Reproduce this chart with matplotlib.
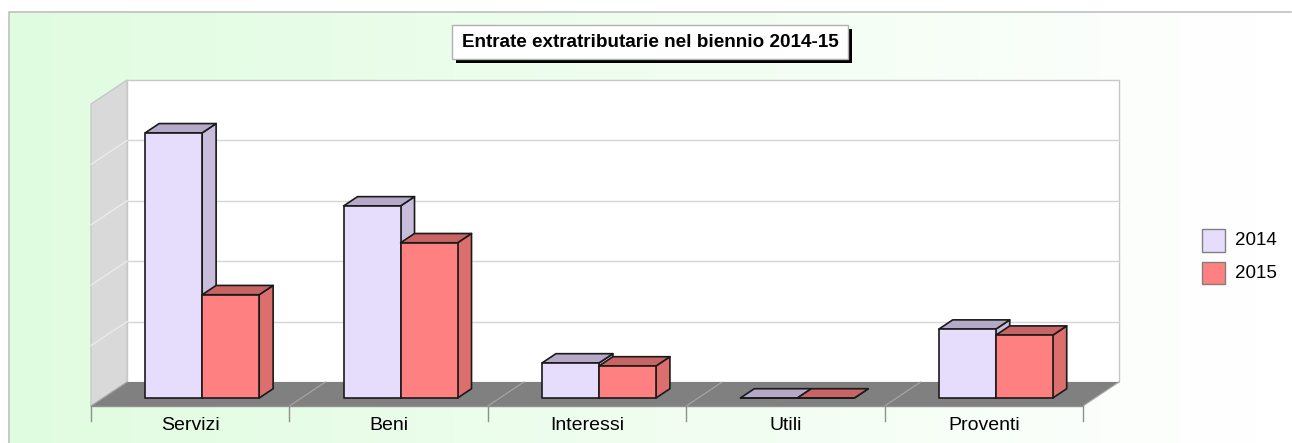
import numpy as np
import matplotlib
matplotlib.use("Agg")
from matplotlib import pyplot as plt
from matplotlib.patches import Polygon, Rectangle

plt.rcParams['font.family'] = ['Liberation Sans', 'DejaVu Sans']

# data (gridline units)
categories = ["Servizi", "Beni", "Interessi", "Utili", "Proventi"]
years = ["2014", "2015"]
values_2014 = [4.39, 3.18, 0.58, 0.0, 1.14]
values_2015 = [1.71, 2.57, 0.53, 0.0, 1.04]
title = "Entrate extratributarie nel biennio 2014-15"

W, H = 1292, 443
fig = plt.figure(figsize=(W/100, H/100), dpi=100)
fig.patch.set_facecolor("white")

# background panel with green -> white gradient
bg = fig.add_axes([0, 0, 1, 1])
bg.set_xlim(0, W)
bg.set_ylim(H, 0)
bg.axis("off")
grad = np.linspace(0, 1, 256)
c0 = np.array([224, 252, 224]) / 255.
c1 = np.array([255, 255, 255]) / 255.
img = c0[None, :] * (1 - grad[:, None]) + c1[None, :] * grad[:, None]
bg.imshow(img[None, :, :], extent=[9, 1262, H, 11], aspect="auto", zorder=0)
bg.add_patch(Rectangle((1262, 11), W - 1262, H - 11, fc="white", ec="none", zorder=0))
bg.plot([9, 9, 1291], [H, 11.5, 11.5], color="#c0c0c0", lw=1.2, zorder=1)

# title box with drop shadow
bg.add_patch(Rectangle((456, 29), 396, 34, fc="black", ec="none", zorder=2))
bg.add_patch(Rectangle((452, 25), 396, 34, fc="white", ec="#b0b0b0", lw=1, zorder=3))
bg.text(650, 42.5, title, ha="center", va="center", fontsize=13.6, fontweight="bold", zorder=4)

# legend
bg.add_patch(Rectangle((1202, 229), 23, 23, fc="#e6dcfc", ec="#808080", lw=1, zorder=3))
bg.add_patch(Rectangle((1202, 262), 23, 22, fc="#ff8080", ec="#808080", lw=1, zorder=3))
bg.text(1235, 240.5, years[0], ha="left", va="center", fontsize=13.5, zorder=4)
bg.text(1235, 273.5, years[1], ha="left", va="center", fontsize=13.5, zorder=4)

# plot area: back wall plane, x in categories, y in value units
ax = fig.add_axes([127/W, (H - 382)/H, 992/W, 302/H])
ax.set_xlim(0, 5)
ax.set_ylim(0, 5)
ax.axis("off")
ax.patch.set_alpha(0)

n = len(categories)
ymax = 5
DX = 36 / 198.4   # depth offset, categories
DY = 24 / 60.4    # depth offset, value units

def proj(x, y, d):
    return (x - d * DX, y - d * DY)

def poly(pts, fc, ec="none", lw=0, z=1):
    ax.add_patch(Polygon(pts, closed=True, fc=fc, ec=ec, lw=lw, zorder=z, clip_on=False, joinstyle="round"))

# back wall
poly([(0, 0), (n, 0), (n, ymax), (0, ymax)], "white", "#c8c8c8", 1, 1)
for k in range(1, ymax):
    ax.plot([0, n], [k, k], color="#d6d6d6", lw=1, zorder=1.5, clip_on=False)

# left wall
poly([(0, 0), (0, ymax), proj(0, ymax, 1), proj(0, 0, 1)], "#d9d9d9", "#c8c8c8", 1, 1)
for k in range(1, ymax):
    p0, p1 = (0, k), proj(0, k, 1)
    ax.plot([p0[0], p1[0]], [p0[1], p1[1]], color="#ebebeb", lw=1, zorder=1.5, clip_on=False)

# floor
poly([(0, 0), (n, 0), proj(n, 0, 1), proj(0, 0, 1)], "#808080", "none", 0, 1)
for i in range(n + 1):
    p0, p1 = (i, 0), proj(i, 0, 1)
    ax.plot([p0[0], p1[0]], [p0[1], p1[1]], color="#a8a8a8", lw=0.8, zorder=1.6, clip_on=False)

# front axis line, ticks and category labels
a0, a1 = proj(0, 0, 1), proj(n, 0, 1)
ax.plot([a0[0], a1[0]], [a0[1], a1[1]], color="#909090", lw=1, zorder=2, clip_on=False)
tick_len = 15 / 60.4
for i in range(n + 1):
    t = proj(i, 0, 1)
    ax.plot([t[0], t[0]], [t[1], t[1] - tick_len], color="#909090", lw=1, zorder=2, clip_on=False)
for i, cat in enumerate(categories):
    t = proj(i + 0.5, 0, 1)
    ax.text(t[0], t[1] - 20 / 60.4, cat, ha="center", va="center", fontsize=14, clip_on=False)

# 3d bars
bw = 57 / 198.4
d_front, d_back = 0.667, 0.28
faces = {
    "2014": ("#e6dcfc", "#b4aac8", "#c8bedc"),
    "2015": ("#ff8080", "#c86464", "#dc6e6e"),
}
ec = "#1a1a1a"
for i in range(n):
    for j, (yr, vals) in enumerate(zip(years, [values_2014, values_2015])):
        v = vals[i]
        x0 = i + 0.5 - bw + j * bw
        x1 = x0 + bw
        front, top, side = faces[yr]
        z = 3 + i + j * 0.5
        # side face
        poly([proj(x1, 0, d_front), proj(x1, 0, d_back), proj(x1, v, d_back), proj(x1, v, d_front)],
             side, ec, 1.2, z)
        # top face
        poly([proj(x0, v, d_front), proj(x1, v, d_front), proj(x1, v, d_back), proj(x0, v, d_back)],
             top, ec, 1.2, z + 0.1)
        # front face
        poly([proj(x0, 0, d_front), proj(x1, 0, d_front), proj(x1, v, d_front), proj(x0, v, d_front)],
             front, ec, 1.2, z + 0.2)

fig.savefig("out.png", dpi=100)
